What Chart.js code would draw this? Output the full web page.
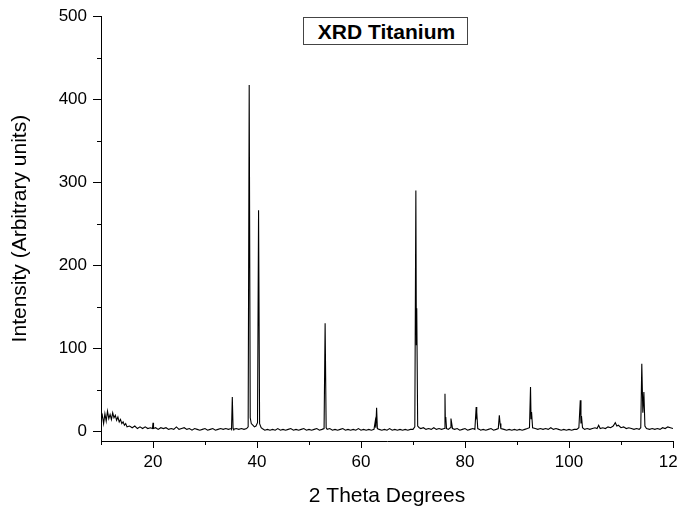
<!DOCTYPE html>
<html>
<head>
<meta charset="utf-8">
<script src="https://cdn.jsdelivr.net/npm/chart.js@4.4.1/dist/chart.umd.min.js"></script>
<style>
  html, body { margin: 0; padding: 0; background: #fff; overflow: hidden; }
  #wrap { position: relative; width: 677px; height: 511px; overflow: hidden; }
  #xrd { position: absolute; left: 0; top: 0; }
  #titleBox {
    position: absolute; left: 303px; top: 17px; width: 161px; height: 26px;
    border: 1px solid #444; background: #fff;
    font: bold 21px "Liberation Sans", Arial, sans-serif; color: #000;
    line-height: 27px; text-align: center; padding-left: 2px; box-sizing: content-box;
  }
</style>
</head>
<body>
<div id="wrap">
  <canvas id="xrd" width="700" height="511"></canvas>
  <div id="titleBox">XRD Titanium</div>
</div>
<script>
// scan: 2 theta (deg) and intensity (arb. units)
const twoTheta = [
  10.0, 10.25, 10.5, 10.75, 11.0, 11.25, 11.5, 11.75, 12.0, 12.25,
  12.5, 12.75, 13.0, 13.25, 13.5, 13.75, 14.0, 14.25, 14.5, 14.75,
  15.0, 15.5, 16.0, 16.5, 17.0, 17.5, 18.0, 18.5, 19.0, 19.5,
  19.9, 20.0, 20.1, 20.5, 21.0, 21.5, 22.0, 22.5, 23.0, 23.5,
  24.0, 24.5, 25.0, 25.5, 26.0, 26.5, 27.0, 27.5, 28.0, 28.5,
  29.0, 29.5, 30.0, 30.5, 31.0, 31.5, 32.0, 32.5, 33.0, 33.5,
  34.0, 34.5, 35.0, 35.1, 35.25, 35.4, 35.5, 36.0, 36.5, 37.0,
  37.5, 38.0, 38.3, 38.5, 38.7, 38.9, 39.2, 39.5, 39.8, 40.1,
  40.3, 40.5, 40.8, 41.0, 41.5, 42.0, 42.5, 43.0, 43.5, 44.0,
  44.5, 45.0, 45.5, 46.0, 46.5, 47.0, 47.5, 48.0, 48.5, 49.0,
  49.5, 50.0, 50.5, 51.0, 51.5, 52.0, 52.5, 52.9, 53.1, 53.3,
  53.5, 54.0, 54.5, 55.0, 55.5, 56.0, 56.5, 57.0, 57.5, 58.0,
  58.5, 59.0, 59.5, 60.0, 60.5, 61.0, 61.5, 62.0, 62.5, 62.75,
  62.85, 63.0, 63.15, 63.5, 64.0, 64.5, 65.0, 65.5, 66.0, 66.5,
  67.0, 67.5, 68.0, 68.5, 69.0, 69.5, 70.0, 70.35, 70.55, 70.65,
  70.72, 70.9, 71.2, 71.5, 72.0, 72.5, 73.0, 73.5, 74.0, 74.5,
  75.0, 75.5, 76.0, 76.15, 76.22, 76.3, 76.45, 76.8, 77.15, 77.3,
  77.45, 77.6, 78.0, 78.5, 79.0, 79.5, 80.0, 80.5, 81.0, 81.5,
  81.9, 82.15, 82.22, 82.3, 82.45, 82.8, 83.0, 83.5, 84.0, 84.5,
  85.0, 85.5, 86.0, 86.4, 86.6, 86.75, 86.9, 87.5, 88.0, 88.5,
  89.0, 89.5, 90.0, 90.5, 91.0, 91.5, 92.0, 92.4, 92.6, 92.7,
  92.8, 93.0, 93.5, 94.0, 94.5, 95.0, 95.5, 96.0, 96.5, 97.0,
  97.5, 98.0, 98.5, 99.0, 99.5, 100.0, 100.5, 101.0, 101.5, 101.9,
  102.17, 102.3, 102.4, 102.6, 103.0, 103.5, 104.0, 104.5, 105.0, 105.4,
  105.7, 106.0, 106.5, 107.0, 107.5, 108.0, 108.5, 108.9, 109.2, 109.5,
  110.0, 110.5, 111.0, 111.5, 112.0, 112.5, 113.0, 113.5, 113.8, 114.0,
  114.2, 114.4, 114.6, 114.9, 115.5, 116.0, 116.5, 117.0, 117.5, 118.0,
  118.5, 119.0, 119.5, 120.0
];
const intensity = [
  13, 19, 9, 21, 12, 24, 15, 20, 14, 22,
  16, 19, 13, 17, 11, 14, 9, 11, 7, 9,
  5, 6, 4, 6, 3, 5, 3, 5, 3, 4,
  3, 10, 3, 4, 2, 4, 3, 4, 2, 3,
  2, 5, 2, 3, 4, 2, 3, 1, 3, 2,
  1, 2, 3, 1, 2, 3, 1, 2, 3, 2,
  3, 2, 3, 2, 41, 3, 2, 3, 2, 3,
  2, 3, 5, 417, 16, 9, 7, 5, 6, 10,
  266, 9, 4, 3, 1, 2, 1, 2, 1, 3,
  1, 2, 1, 2, 3, 1, 2, 1, 2, 3,
  1, 2, 1, 2, 3, 1, 2, 3, 130, 4,
  2, 3, 1, 2, 1, 2, 3, 1, 2, 1,
  2, 1, 3, 1, 2, 1, 2, 1, 2, 12,
  4, 28, 3, 2, 1, 2, 1, 3, 1, 2,
  1, 2, 1, 2, 1, 2, 2, 5, 290, 104,
  148, 6, 4, 3, 4, 2, 3, 2, 4, 2,
  3, 2, 3, 45, 12, 17, 3, 2, 4, 15,
  9, 3, 2, 3, 1, 2, 3, 1, 2, 3,
  2, 29, 14, 23, 3, 2, 1, 2, 1, 2,
  3, 1, 2, 3, 19, 9, 3, 2, 1, 2,
  1, 2, 1, 2, 1, 2, 3, 4, 53, 15,
  23, 4, 3, 2, 3, 2, 3, 2, 4, 2,
  3, 2, 1, 2, 1, 2, 1, 2, 2, 4,
  37, 9, 18, 4, 2, 3, 2, 3, 4, 3,
  7, 3, 4, 3, 5, 4, 6, 10, 6, 7,
  4, 5, 3, 4, 3, 2, 3, 2, 4, 81,
  22, 47, 6, 3, 2, 3, 2, 3, 2, 4,
  3, 5, 4, 3
];

const xMajor = [20, 40, 60, 80, 100, 120];
const xMinor = [10, 30, 50, 70, 90, 110];
const yMajor = [0, 100, 200, 300, 400, 500];
const yMinor = [50, 150, 250, 350, 450];

if (twoTheta.length !== intensity.length) console.warn('length mismatch', twoTheta.length, intensity.length);

const font = '"Liberation Sans", Arial, sans-serif';

// short minor ticks, Origin style
const minorTicks = {
  id: 'minorTicks',
  afterDraw(chart) {
    const ctx = chart.ctx;
    const xs = chart.scales.x, ys = chart.scales.y;
    ctx.save();
    ctx.strokeStyle = '#000';
    ctx.lineWidth = 1;
    ctx.beginPath();
    xMinor.forEach(v => {
      const px = Math.round(xs.getPixelForValue(v)) + 0.5;
      ctx.moveTo(px, xs.top);
      ctx.lineTo(px, xs.top + 4);
    });
    yMinor.forEach(v => {
      const py = Math.round(ys.getPixelForValue(v)) + 0.5;
      ctx.moveTo(ys.right - 4, py);
      ctx.lineTo(ys.right, py);
    });
    ctx.stroke();
    ctx.restore();
  }
};

new Chart(document.getElementById('xrd'), {
  type: 'line',
  data: {
    datasets: [{
      data: twoTheta.map((t, i) => ({ x: t, y: intensity[i] })),
      borderColor: '#000',
      borderWidth: 1.1,
      pointRadius: 0,
      tension: 0,
      fill: false
    }]
  },
  options: {
    responsive: false,
    animation: false,
    layout: { padding: { top: 16, right: 27, left: 0, bottom: 0 } },
    plugins: { legend: { display: false }, tooltip: { enabled: false } },
    scales: {
      x: {
        type: 'linear',
        min: 10,
        max: 120,
        afterBuildTicks: s => { s.ticks = xMajor.map(v => ({ value: v })); },
        afterFit: s => { s.height = 70; },
        ticks: { color: '#000', font: { family: font, size: 17 }, padding: 4, maxRotation: 0, autoSkip: false },
        grid: { drawOnChartArea: false, drawTicks: true, tickLength: 7, tickColor: '#000', tickWidth: 1 },
        border: { display: true, color: '#000', width: 1 },
        title: { display: true, text: '2 Theta Degrees', color: '#000', font: { family: font, size: 21, lineHeight: 1 }, padding: { top: 0, bottom: 4 } }
      },
      y: {
        min: -12,
        max: 500,
        afterBuildTicks: s => { s.ticks = yMajor.map(v => ({ value: v })); },
        afterFit: s => { s.width = 101; },
        ticks: { color: '#000', font: { family: font, size: 17 }, padding: 6, autoSkip: false },
        grid: { drawOnChartArea: false, drawTicks: true, tickLength: 8, tickColor: '#000', tickWidth: 1 },
        border: { display: true, color: '#000', width: 1 },
        title: { display: true, text: 'Intensity (Arbitrary units)', color: '#000', font: { family: font, size: 21, lineHeight: 1 }, padding: { top: 10, bottom: 0 } }
      }
    }
  },
  plugins: [minorTicks]
});
</script>
</body>
</html>
